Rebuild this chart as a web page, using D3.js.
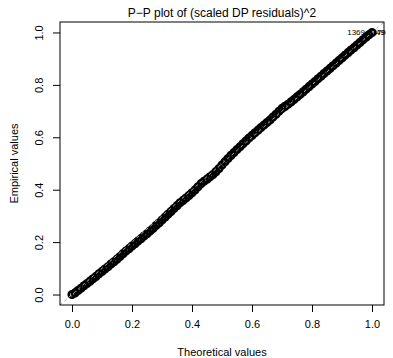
<!DOCTYPE html>
<html>
<head>
<meta charset="utf-8">
<script src="https://cdn.jsdelivr.net/npm/d3@7"></script>
<style>
  body { margin: 0; background: #fff; }
  svg text { font-family: "Liberation Sans", Arial, sans-serif; fill: #000; }
</style>
</head>
<body>
<div id="chart"></div>
<script>
// theoretical vs empirical probabilities
var theoretical = [0.00,0.01,0.02,0.03,0.04,0.05,0.06,0.07,0.08,0.09,
  0.10,0.11,0.12,0.13,0.14,0.15,0.16,0.17,0.18,0.19,
  0.20,0.21,0.22,0.23,0.24,0.25,0.26,0.27,0.28,0.29,
  0.30,0.31,0.32,0.33,0.34,0.35,0.36,0.37,0.38,0.39,
  0.40,0.41,0.42,0.43,0.44,0.45,0.46,0.47,0.48,0.49,
  0.50,0.51,0.52,0.53,0.54,0.55,0.56,0.57,0.58,0.59,
  0.60,0.61,0.62,0.63,0.64,0.65,0.66,0.67,0.68,0.69,
  0.70,0.71,0.72,0.73,0.74,0.75,0.76,0.77,0.78,0.79,
  0.80,0.81,0.82,0.83,0.84,0.85,0.86,0.87,0.88,0.89,
  0.90,0.91,0.92,0.93,0.94,0.95,0.96,0.97,0.98,0.99,1.00];
var empirical = [0.000,0.006,0.015,0.024,0.033,0.042,0.051,0.060,0.069,0.079,
  0.088,0.097,0.106,0.116,0.125,0.135,0.145,0.156,0.166,0.175,
  0.185,0.194,0.204,0.213,0.223,0.232,0.242,0.252,0.263,0.273,
  0.284,0.295,0.306,0.317,0.328,0.339,0.350,0.359,0.368,0.378,
  0.388,0.399,0.411,0.423,0.432,0.440,0.449,0.458,0.469,0.481,
  0.494,0.507,0.519,0.531,0.542,0.553,0.564,0.575,0.586,0.597,
  0.607,0.617,0.627,0.637,0.647,0.656,0.666,0.677,0.688,0.699,
  0.710,0.718,0.726,0.735,0.744,0.754,0.763,0.773,0.783,0.793,
  0.803,0.813,0.823,0.833,0.843,0.853,0.863,0.873,0.883,0.893,
  0.903,0.913,0.923,0.933,0.942,0.952,0.962,0.972,0.982,0.991,1.000];
var tickValues = [0, 0.2, 0.4, 0.6, 0.8, 1.0];
var outlierLabels = ["1369", "2349", "2379"];

var width = 393, height = 358;
var margin = { top: 22, right: 9, bottom: 53, left: 60 };
var plotW = width - margin.left - margin.right,
    plotH = height - margin.top - margin.bottom;

// R style 4% padding on the data range
var x = d3.scaleLinear().domain([-0.04, 1.04]).range([0, plotW]);
var y = d3.scaleLinear().domain([-0.04, 1.04]).range([plotH, 0]);

var svg = d3.select("#chart").append("svg")
  .attr("width", width)
  .attr("height", height);

var g = svg.append("g")
  .attr("transform", "translate(" + [margin.left, margin.top] + ")");

svg.append("defs").append("clipPath").attr("id", "clip")
  .append("rect").attr("width", plotW).attr("height", plotH);

// points
var pts = theoretical.map(function (t, i) { return [t, empirical[i]]; });
g.append("g").selectAll("circle")
  .data(pts)
  .enter().append("circle")
  .attr("cx", function (d) { return x(d[0]); })
  .attr("cy", function (d) { return y(d[1]); })
  .attr("r", 3.3)
  .attr("fill", "none")
  .attr("stroke", "#000")
  .attr("stroke-width", 2.6);

// reference line y = x
g.append("line")
  .attr("clip-path", "url(#clip)")
  .attr("x1", x(-0.04)).attr("y1", y(-0.04))
  .attr("x2", x(1.04)).attr("y2", y(1.04))
  .attr("stroke", "#a8a8a8")
  .attr("stroke-width", 1)
  .attr("stroke-dasharray", "3,3");

// outlier labels
var last = pts[pts.length - 1];
g.append("text")
  .attr("x", x(last[0]) - 7).attr("y", y(last[1]) + 3)
  .attr("text-anchor", "end")
  .attr("font-size", "8px")
  .text(outlierLabels[0]);
g.append("text")
  .attr("x", x(last[0]) - 5).attr("y", y(last[1]) + 3)
  .attr("font-size", "8px")
  .text(outlierLabels[1]);
g.append("text")
  .attr("x", x(last[0]) - 4).attr("y", y(last[1]) + 3)
  .attr("font-size", "8px")
  .text(outlierLabels[2]);

// box
g.append("rect")
  .attr("width", plotW).attr("height", plotH)
  .attr("fill", "none").attr("stroke", "#000").attr("stroke-width", 1);

// axes
var xAxis = g.append("g")
  .attr("transform", "translate(0," + plotH + ")")
  .call(d3.axisBottom(x).tickValues(tickValues).tickFormat(d3.format(".1f")).tickSize(7).tickPadding(8));
var yAxis = g.append("g")
  .call(d3.axisLeft(y).tickValues(tickValues).tickFormat(d3.format(".1f")).tickSize(7).tickPadding(10));

[xAxis, yAxis].forEach(function (a) {
  a.select(".domain").remove();
  a.selectAll("text").attr("font-size", "11px").attr("font-family", "Liberation Sans, Arial, sans-serif").attr("fill", "#000");
  a.selectAll("line").attr("stroke", "#000");
});
yAxis.selectAll(".tick text")
  .attr("text-anchor", "middle")
  .attr("transform", "rotate(-90)")
  .attr("x", 0)
  .attr("dy", 0)
  .attr("y", -17);

// titles
svg.append("text")
  .attr("x", margin.left + plotW / 2).attr("y", 17)
  .attr("text-anchor", "middle").attr("font-size", "12px")
  .text("P\u2212P plot of (scaled DP residuals)^2");
svg.append("text")
  .attr("x", margin.left + plotW / 2).attr("y", 356)
  .attr("text-anchor", "middle").attr("font-size", "11px")
  .text("Theoretical values");
svg.append("text")
  .attr("transform", "translate(18," + (margin.top + plotH / 2) + ") rotate(-90)")
  .attr("text-anchor", "middle").attr("font-size", "11px")
  .text("Empirical values");
</script>
</body>
</html>
